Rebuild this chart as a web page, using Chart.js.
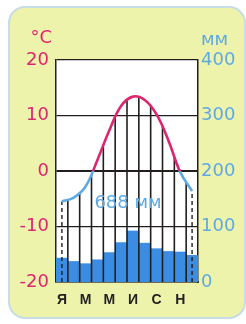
<!DOCTYPE html>
<html>
<head>
<meta charset="utf-8">
<script src="https://cdn.jsdelivr.net/npm/chart.js@4/dist/chart.umd.min.js"></script>
<style>
  html, body { margin: 0; padding: 0; background: #ffffff; }
  canvas { display: block; }
</style>
</head>
<body>
<canvas id="climateChart" width="246" height="324"></canvas>
<script>
// month initials (only every other one is printed)
const months = ['Я', 'Ф', 'М', 'А', 'М', 'И', 'И', 'А', 'С', 'О', 'Н', 'Д'];
// mean monthly temperature, °C
const temperature = [-5.5, -4.8, -2.8, 2.0, 7.3, 11.7, 13.4, 12.8, 10.2, 5.5, -0.2, -3.6];
// monthly precipitation, mm
const precipitation = [43, 37, 33, 40, 53, 71, 92, 70, 60, 55, 54, 48];
const tempTicks = [-20, -10, 0, 10, 20];
const rainTicks = [0, 100, 200, 300, 400];
const annualTotal = '688 мм';

const pink = '#dc2670';
const blue = '#5fa9e3';
const barBlue = '#3a8de2';
const lineDark = '#221e1e';
const numFont = "'DejaVu Sans', sans-serif";

// yellow card behind everything
const cardPlugin = {
    id: 'card',
    beforeDraw(chart) {
        const ctx = chart.ctx;
        ctx.save();
        ctx.fillStyle = '#ffffff';
        ctx.fillRect(0, 0, chart.width, chart.height);
        ctx.beginPath();
        ctx.roundRect(9, 7, 236, 311, 16);
        ctx.fillStyle = '#eef3ab';
        ctx.fill();
        ctx.lineWidth = 2;
        ctx.strokeStyle = '#c6dde6';
        ctx.stroke();
        const a = chart.chartArea;
        ctx.fillStyle = '#ffffff';
        ctx.fillRect(a.left, a.top, a.right - a.left, a.bottom - a.top);
        ctx.restore();
    }
};

// vertical hatching under the temperature curve (drawn over the bars) + labels
const hatchPlugin = {
    id: 'hatch',
    afterDatasetDraw(chart, args) {
        if (args.index !== 1) return;
        const ctx = chart.ctx;
        const pts = chart.getDatasetMeta(0).data;
        const x = chart.scales.x;
        const bottom = chart.chartArea.bottom;
        const first = pts[0], last = pts[pts.length - 1];

        ctx.save();
        ctx.beginPath();
        ctx.moveTo(first.x, first.y);
        for (let i = 1; i < pts.length; i++) {
            const p = pts[i - 1], c = pts[i];
            ctx.bezierCurveTo(p.cp2x, p.cp2y, c.cp1x, c.cp1y, c.x, c.y);
        }
        ctx.lineTo(last.x, bottom);
        ctx.lineTo(first.x, bottom);
        ctx.closePath();
        ctx.clip();

        ctx.strokeStyle = lineDark;
        ctx.lineWidth = 1.6;
        for (let i = 0; i < months.length - 1; i++) {
            const bx = (x.getPixelForValue(i) + x.getPixelForValue(i + 1)) / 2;
            ctx.beginPath();
            ctx.moveTo(bx, bottom);
            ctx.lineTo(bx, chart.chartArea.top);
            ctx.stroke();
        }
        ctx.restore();

        // dashed verticals at the ends of the curve
        ctx.save();
        ctx.strokeStyle = lineDark;
        ctx.lineWidth = 1.4;
        ctx.setLineDash([4, 3]);
        [first, last].forEach(p => {
            ctx.beginPath();
            ctx.moveTo(p.x, bottom);
            ctx.lineTo(p.x, p.y);
            ctx.stroke();
        });
        ctx.restore();
    },
    afterDraw(chart) {
        const ctx = chart.ctx;
        const a = chart.chartArea;
        ctx.save();
        ctx.textBaseline = 'alphabetic';
        ctx.font = '18px ' + numFont;
        ctx.fillStyle = pink;
        ctx.textAlign = 'right';
        ctx.fillText('°C', a.left - 4, 43);
        ctx.fillStyle = blue;
        ctx.textAlign = 'left';
        ctx.fillText('мм', a.right + 3, 45);
        ctx.textAlign = 'center';
        ctx.textBaseline = 'middle';
        ctx.fillText(annualTotal, (a.left + a.right) / 2 + 1, chart.scales.y.getPixelForValue(-5.9));
        ctx.restore();
    }
};

const ctx = document.getElementById('climateChart').getContext('2d');
new Chart(ctx, {
    data: {
        labels: months,
        datasets: [{
            type: 'line',
            data: temperature,
            yAxisID: 'y',
            borderWidth: 2.6,
            tension: 0.4,
            pointRadius: 0,
            fill: false,
            borderColor(context) {
                const chart = context.chart;
                const area = chart.chartArea;
                if (!area) return pink;
                const g = chart.ctx.createLinearGradient(0, area.top, 0, area.bottom);
                const f = (chart.scales.y.getPixelForValue(0) - area.top) / (area.bottom - area.top);
                g.addColorStop(0, pink);
                g.addColorStop(f, pink);
                g.addColorStop(f, blue);
                g.addColorStop(1, blue);
                return g;
            }
        }, {
            type: 'bar',
            data: precipitation,
            yAxisID: 'y1',
            backgroundColor: barBlue,
            borderWidth: 0,
            barPercentage: 1,
            categoryPercentage: 1
        }]
    },
    options: {
        responsive: false,
        animation: false,
        layout: { padding: { top: 60, left: 0, right: 0, bottom: 0 } },
        plugins: {
            legend: { display: false },
            tooltip: { enabled: false }
        },
        scales: {
            x: {
                grid: { display: false },
                border: { display: true, color: lineDark, width: 1.5 },
                ticks: {
                    autoSkip: false,
                    maxRotation: 0,
                    padding: 2,
                    color: '#222222',
                    font: { family: "'Liberation Sans', Arial, sans-serif", size: 14, weight: 'bold' },
                    callback: (v, i) => (i % 2 === 0 ? months[i] : '')
                },
                afterFit(scale) { scale.height = 42; }
            },
            y: {
                position: 'left',
                min: tempTicks[0],
                max: tempTicks[tempTicks.length - 1],
                afterBuildTicks(scale) { scale.ticks = tempTicks.map(v => ({ value: v })); },
                grid: {
                    color: lineDark,
                    lineWidth: c => (c.tick.value === 0 ? 2 : 1.2),
                    drawTicks: false
                },
                border: { display: true, color: lineDark, width: 1.5 },
                ticks: {
                    padding: 7,
                    color: pink,
                    font: { family: numFont, size: 18 },
                    callback: v => (v < 0 ? '-' + Math.abs(v) : String(v))
                },
                afterFit(scale) { scale.width = 56; }
            },
            y1: {
                position: 'right',
                min: rainTicks[0],
                max: rainTicks[rainTicks.length - 1],
                afterBuildTicks(scale) { scale.ticks = rainTicks.map(v => ({ value: v })); },
                grid: { display: false, drawTicks: false },
                border: { display: true, color: lineDark, width: 1.5 },
                ticks: {
                    padding: 3,
                    color: blue,
                    font: { family: numFont, size: 18 }
                },
                afterFit(scale) { scale.width = 48; }
            }
        }
    },
    plugins: [cardPlugin, hatchPlugin]
});
</script>
</body>
</html>
